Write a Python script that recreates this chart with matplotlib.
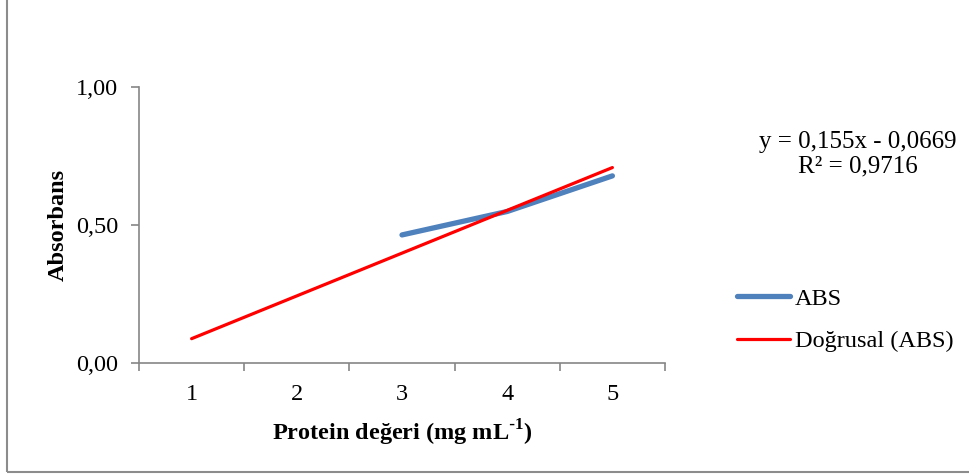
import matplotlib.pyplot as plt
from matplotlib.patches import Rectangle

plt.rcParams['font.family'] = ['Liberation Serif', 'DejaVu Serif']

categories = [1, 2, 3, 4, 5]
abs_x = [3, 4, 5]
abs_values = [0.464, 0.549, 0.678]
slope = 0.155
intercept = -0.0669
r2 = 0.9716
y_ticks = [0.0, 0.5, 1.0]

trend_values = [slope * c + intercept for c in categories]

fig = plt.figure(figsize=(9.7, 4.74), dpi=100)
ax = fig.add_axes([139 / 970, 1 - 363 / 474, (665 - 139) / 970, (363 - 87) / 474])

ax.plot(abs_x, abs_values, color='#4F81BD', lw=3.8, solid_capstyle='round', label='ABS')
ax.plot(categories, trend_values, color='#FF0000', lw=2.3, solid_capstyle='round', label='Doğrusal (ABS)')

ax.set_xlim(0.5, 5.5)
ax.set_ylim(0, 1.0)
ax.set_xticks(categories)
ax.set_xticks([c + 0.5 for c in [0] + categories], minor=True)
ax.set_yticks(y_ticks)
ax.set_yticklabels([f'{v:.2f}'.replace('.', ',') for v in y_ticks])

for s in ['top', 'right']:
    ax.spines[s].set_visible(False)
for s in ['left', 'bottom']:
    ax.spines[s].set_color('#868686')
    ax.spines[s].set_linewidth(1.2)

ax.tick_params(axis='x', which='major', length=0, pad=15, labelsize=17.5)
ax.tick_params(axis='x', which='minor', length=6, width=1.2, color='#868686', direction='out')
ax.tick_params(axis='y', length=6, width=1.2, color='#868686', pad=9, labelsize=17.5)

ax.set_xlabel('Protein değeri (mg mL$^{\\mathregular{\\text{-}1}}$)', fontsize=17.5,
              fontweight='bold', labelpad=9)
ax.set_ylabel('Absorbans', fontsize=17.5, fontweight='bold', labelpad=5)

fig.text(858 / 970, 1 - 142 / 474, f'y = {slope:.3f}x - {abs(intercept):.4f}'.replace('.', ','),
         ha='center', va='center', fontsize=18)
fig.text(858 / 970, 1 - 166 / 474, f'R² = {r2:.4f}'.replace('.', ','),
         ha='center', va='center', fontsize=18)

fig.legend(loc='center left', bbox_to_anchor=(715 / 970, 1 - 320 / 474), frameon=False,
           fontsize=17.5, handlelength=2.2, handletextpad=0.2, labelspacing=0.85)

fig.patches.append(Rectangle((7 / 970, 2 / 474), 1.2, 1.2, transform=fig.transFigure,
                             fill=False, edgecolor='#8C8C8C', lw=1.5))

fig.savefig('out.png', dpi=100)
